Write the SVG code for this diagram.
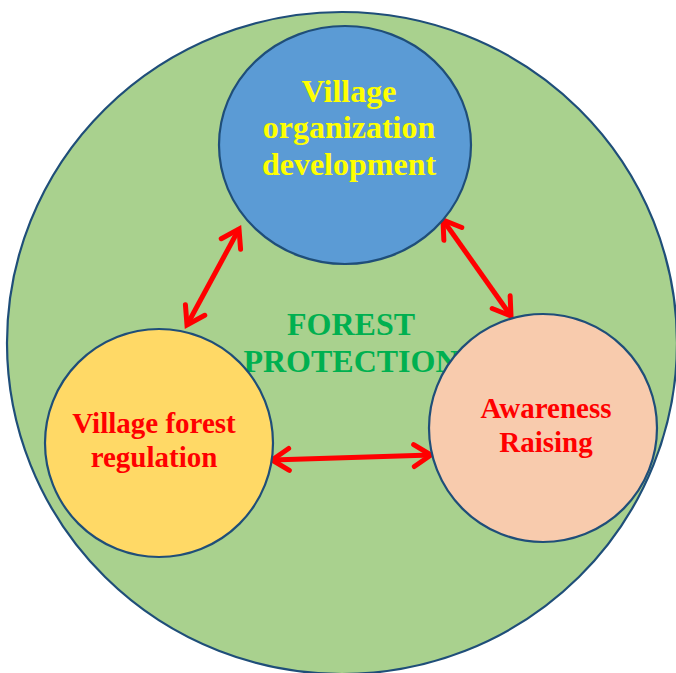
<svg xmlns="http://www.w3.org/2000/svg" width="676" height="673" viewBox="0 0 676 673">
  <style>
    .shape { stroke: #1F4E79; stroke-width: 2.2; }
    .lbl { font-family: "Liberation Serif", "Times New Roman", serif; font-weight: bold; text-anchor: middle; }
    .conn { stroke: #FF0000; stroke-width: 5; fill: none; marker-start: url(#arr); marker-end: url(#arr); }
  </style>
  <defs>
    <marker id="arr" viewBox="-24 -16 30 32" markerWidth="30" markerHeight="32" refX="0" refY="0" orient="auto-start-reverse" markerUnits="userSpaceOnUse" overflow="visible">
      <polyline points="-17,-11 0,0 -17,11" fill="none" stroke="#FF0000" stroke-width="5" stroke-linecap="round" stroke-linejoin="miter"/>
    </marker>
  </defs>
  <rect width="676" height="673" fill="#FFFFFF"/>

  <g id="forest-protection">
    <ellipse class="shape" cx="342" cy="343" rx="335" ry="331" fill="#A9D18E"/>
    <text class="lbl" x="351" y="335" font-size="32" fill="#00B050">FOREST</text>
    <text class="lbl" x="351" y="372" font-size="32" fill="#00B050">PROTECTION</text>
  </g>

  <g id="connectors">
    <line class="conn" x1="187" y1="325" x2="239" y2="229"/>
    <line class="conn" x1="443" y1="220" x2="511" y2="316"/>
    <line class="conn" x1="272" y1="460" x2="431" y2="455"/>
  </g>

  <g id="village-organization">
    <ellipse class="shape" cx="345" cy="145" rx="126" ry="119" fill="#5B9BD5"/>
    <text class="lbl" x="349" y="102" font-size="32" fill="#FFFF00">Village</text>
    <text class="lbl" x="349" y="138" font-size="32" fill="#FFFF00">organization</text>
    <text class="lbl" x="349" y="175" font-size="32" fill="#FFFF00">development</text>
  </g>

  <g id="village-forest-regulation">
    <circle class="shape" cx="159" cy="443" r="114" fill="#FFD966"/>
    <text class="lbl" x="154" y="433" font-size="29" fill="#FF0000">Village forest</text>
    <text class="lbl" x="154" y="467" font-size="29" fill="#FF0000">regulation</text>
  </g>

  <g id="awareness-raising">
    <circle class="shape" cx="543" cy="428" r="114" fill="#F8CBAD"/>
    <text class="lbl" x="546" y="418" font-size="29" fill="#FF0000">Awareness</text>
    <text class="lbl" x="546" y="452" font-size="29" fill="#FF0000">Raising</text>
  </g>
</svg>
